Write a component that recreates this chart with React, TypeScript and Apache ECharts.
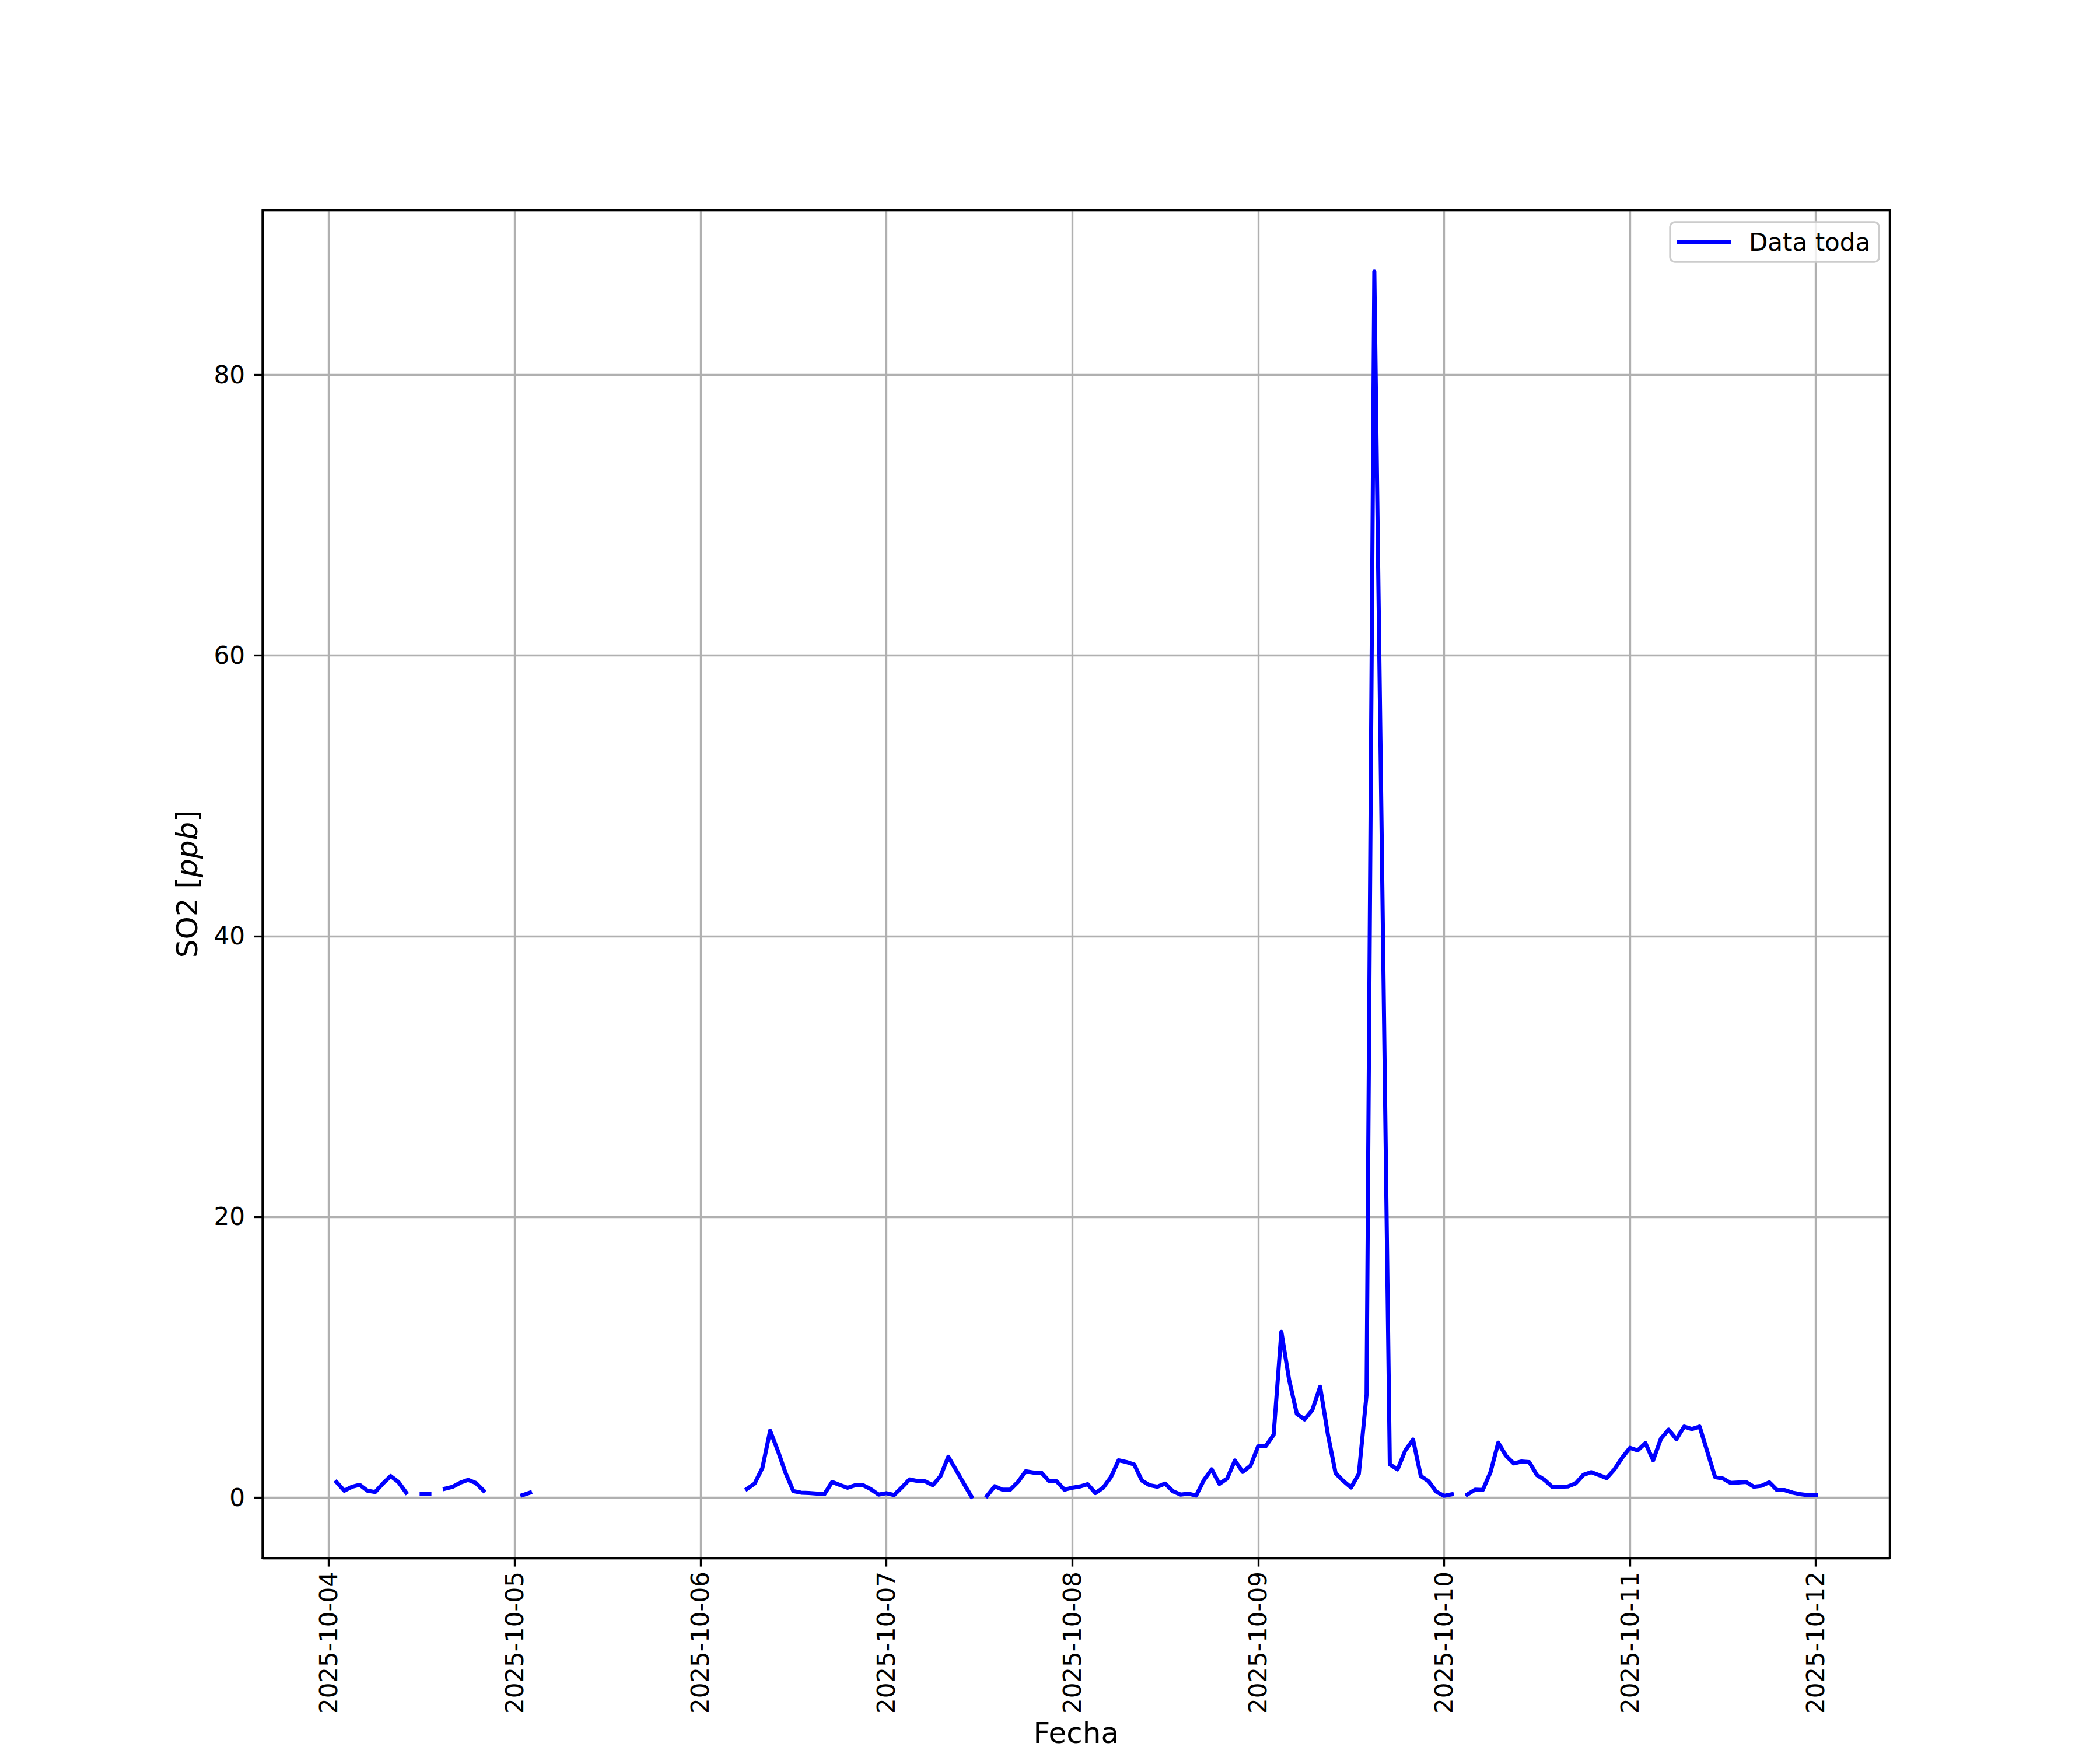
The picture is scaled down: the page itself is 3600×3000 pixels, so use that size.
import React, { useEffect, useRef } from "react";
import * as echarts from "echarts";

// Hourly SO2 readings (ppb), index = hour of the day; null = no data
const oct04 = [null, 1.1, 0.48, 0.76, 0.9, 0.48, 0.38, 0.99, 1.52, 1.1, 0.34, null, 0.23, 0.23, null, 0.62, 0.76, 1.05, 1.25, 1.03, 0.48, null, null, null];
const oct05 = [null, 0.16, 0.34, null, null, null, null, null, null, null, null, null, null, null, null, null, null, null, null, null, null, null, null, null];
const oct06 = [null, null, null, null, null, null, 0.6, 0.99, 2.1, 4.75, 3.32, 1.73, 0.45, 0.34, 0.31, 0.27, 0.23, 1.1, 0.89, 0.69, 0.87, 0.87, 0.59, 0.2];
const oct07 = [0.3, 0.17, 0.71, 1.28, 1.17, 1.15, 0.87, 1.52, 2.9, 1.96, 0.99, 0.05, null, 0.1, 0.8, 0.55, 0.55, 1.1, 1.86, 1.77, 1.77, 1.17, 1.15, 0.55];
const oct08 = [0.69, 0.78, 0.94, 0.31, 0.69, 1.45, 2.65, 2.52, 2.35, 1.2, 0.87, 0.76, 0.99, 0.44, 0.2, 0.27, 0.13, 1.24, 2.0, 0.96, 1.35, 2.63, 1.82, 2.25];
const oct09 = [3.64, 3.66, 4.46, 11.8, 8.38, 5.95, 5.56, 6.23, 7.89, 4.5, 1.73, 1.17, 0.71, 1.68, 7.34, 87.35, 45, 2.35, 2.0, 3.35, 4.12, 1.53, 1.15, 0.41];
const oct10 = [0.11, 0.22, null, 0.2, 0.55, 0.53, 1.8, 3.9, 2.97, 2.42, 2.56, 2.52, 1.59, 1.24, 0.73, 0.76, 0.78, 1.0, 1.61, 1.8, 1.59, 1.38, 2.0, 2.83];
const oct11 = [3.53, 3.35, 3.87, 2.65, 4.18, 4.83, 4.15, 5.05, 4.87, 5.05, 3.25, 1.45, 1.35, 1.03, 1.06, 1.1, 0.76, 0.83, 1.08, 0.52, 0.52, 0.34, 0.23, 0.16];
const oct12 = [0.17];

const dayArrays = [oct04, oct05, oct06, oct07, oct08, oct09, oct10, oct11, oct12];

const seriesName = "Data toda";
const xAxisTitle = "Fecha";
const START = new Date(2025, 9, 4, 0, 0, 0).getTime();
const HOUR = 3600 * 1000;
const xMinHours = -8.55;
const xMaxHours = 201.55;
const yMin = -4.32;
const yMax = 91.72;

const FONT = "DejaVu Sans";

function pad2(n: number) {
  return String(n).padStart(2, "0");
}
function fmtDate(v: number) {
  const d = new Date(v);
  return `${d.getFullYear()}-${pad2(d.getMonth() + 1)}-${pad2(d.getDate())}`;
}

function buildData() {
  const out: any[] = [];
  let h = 0;
  for (const day of dayArrays) {
    for (const v of day) {
      out.push([START + h * HOUR, v == null ? "-" : v]);
      h++;
    }
  }
  return out;
}

export default function App() {
  const ref = useRef<HTMLDivElement>(null);
  useEffect(() => {
    document.body.style.margin = "0";
    if (!ref.current) return;
    const chart = echarts.init(ref.current, null, { renderer: "svg" });
    const lw = 3.33;
    chart.setOption({
      animation: false,
      backgroundColor: "#ffffff",
      textStyle: { fontFamily: FONT },
      grid: {
        left: 450,
        right: 360.5,
        top: 360.5,
        bottom: 329,
        containLabel: false,
        outerBoundsMode: "none",
        show: true,
        borderColor: "#000",
        borderWidth: lw,
        backgroundColor: "transparent",
        z: 3,
      },
      legend: {
        show: true,
        left: 2863,
        top: 381,
        icon: "rect",
        itemWidth: 92,
        itemHeight: 7,
        padding: [13, 15, 13, 12],
        backgroundColor: "rgba(255,255,255,0.8)",
        borderColor: "#cccccc",
        borderWidth: lw,
        borderRadius: 8,
        textStyle: {
          fontSize: 42,
          fontFamily: FONT,
          color: "#000",
          padding: [0, 0, 0, 26],
        },
        data: [seriesName],
      },
      xAxis: {
        type: "time",
        min: START + xMinHours * HOUR,
        max: START + xMaxHours * HOUR,
        minInterval: 24 * HOUR,
        maxInterval: 24 * HOUR,
        name: xAxisTitle,
        nameLocation: "middle",
        nameGap: 266,
        nameTextStyle: { fontSize: 50, fontFamily: FONT, color: "#000" },
        axisLine: { show: true, onZero: false, lineStyle: { color: "#000", width: lw } },
        axisTick: { show: true, inside: false, length: 14.6, lineStyle: { color: "#000", width: lw } },
        axisLabel: {
          show: true,
          rotate: 90,
          margin: 23,
          fontSize: 42,
          fontFamily: FONT,
          color: "#000",
          showMinLabel: false,
          showMaxLabel: false,
          interval: 0,
          formatter: (v: number) => fmtDate(v),
        },
        splitLine: { show: true, lineStyle: { color: "#b0b0b0", width: lw } },
      },
      yAxis: {
        type: "value",
        min: yMin,
        max: yMax,
        splitNumber: 5,
        name: "{a|SO2 [}{b|ppb}{a|]}",
        nameLocation: "middle",
        nameGap: 104,
        nameRotate: 90,
        nameTextStyle: {
          fontSize: 50,
          fontFamily: FONT,
          color: "#000",
          rich: {
            a: { fontSize: 50, fontFamily: FONT, color: "#000" },
            b: { fontSize: 50, fontFamily: FONT, color: "#000", fontStyle: "italic" },
          },
        },
        axisLine: { show: true, onZero: false, lineStyle: { color: "#000", width: lw } },
        axisTick: { show: true, inside: false, length: 14.6, lineStyle: { color: "#000", width: lw } },
        axisLabel: {
          show: true,
          margin: 30,
          fontSize: 42,
          fontFamily: FONT,
          color: "#000",
          showMinLabel: false,
          showMaxLabel: false,
        },
        splitLine: { show: true, lineStyle: { color: "#b0b0b0", width: lw } },
      },
      series: [
        {
          name: seriesName,
          type: "line",
          data: buildData(),
          showSymbol: false,
          symbol: "none",
          connectNulls: false,
          lineStyle: { color: "#0000ff", width: 7, cap: "square", join: "round" },
          itemStyle: { color: "#0000ff" },
          z: 4,
        },
      ],
    });
    return () => chart.dispose();
  }, []);
  return <div ref={ref} style={{ width: 3600, height: 3000 }} />;
}
